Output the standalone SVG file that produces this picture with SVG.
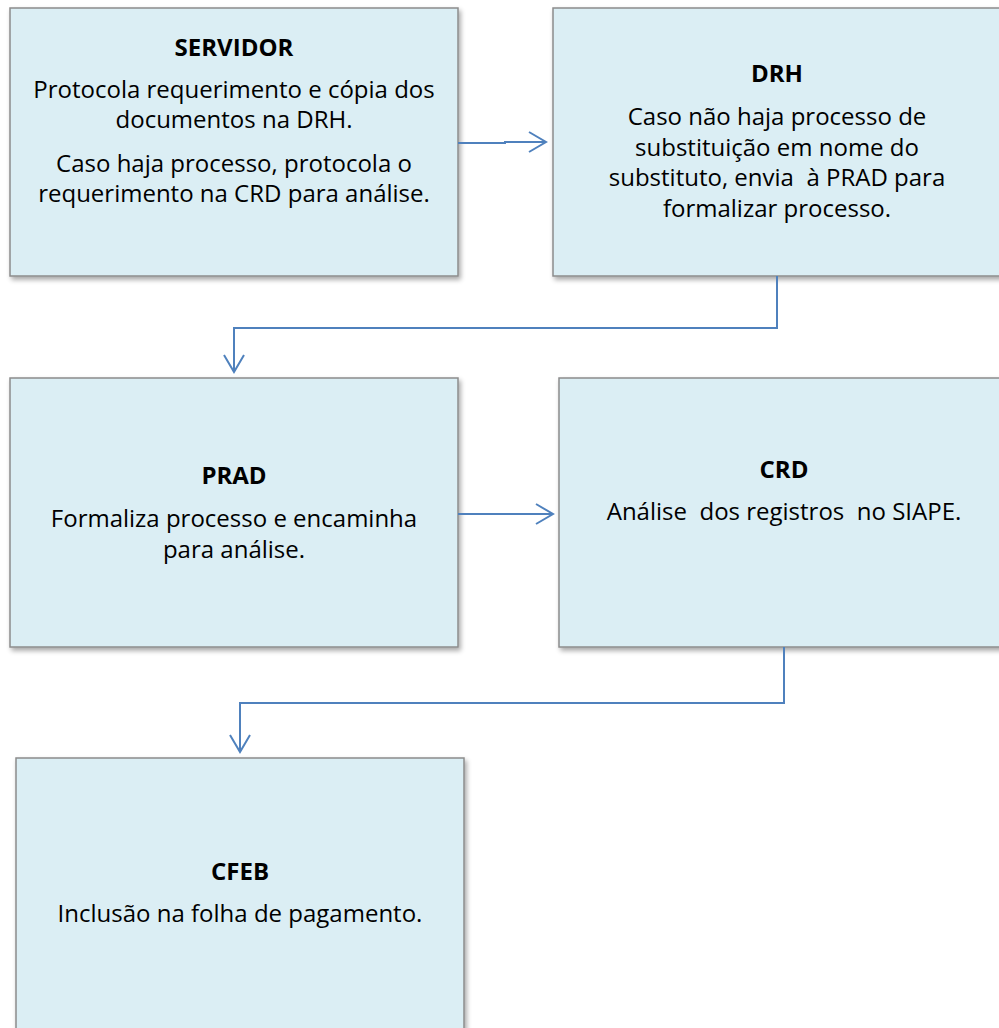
<svg xmlns="http://www.w3.org/2000/svg" width="999" height="1028" viewBox="0 0 999 1028">
<defs>
<filter id="sh" x="-5%" y="-5%" width="115%" height="115%">
<feGaussianBlur in="SourceAlpha" stdDeviation="2.5"/>
<feOffset dx="2" dy="3" result="b"/>
<feComponentTransfer><feFuncA type="linear" slope="0.35"/></feComponentTransfer>
<feMerge><feMergeNode/><feMergeNode in="SourceGraphic"/></feMerge>
</filter>
<marker id="arr" viewBox="0 0 24 24" refX="21" refY="12" markerWidth="24" markerHeight="24" markerUnits="userSpaceOnUse" orient="auto">
<path d="M4,2 L21,12 L4,22" fill="none" stroke="#4F81BD" stroke-width="2"/>
</marker>
</defs>
<style>
.box{fill:#DBEEF4;stroke:#8C8C8C;stroke-width:1.5;filter:url(#sh)}
.t{font-family:"Open Sans","Liberation Sans",sans-serif;font-size:24px;fill:#000;text-anchor:middle;white-space:pre}
.b{font-weight:bold}
.c{fill:none;stroke:#4F81BD;stroke-width:2}
</style>
<rect width="999" height="1028" fill="#fff"/>
<g id="servidor">
<rect class="box" x="10" y="8" width="448" height="268"/>
<text class="t b" x="234" y="56">SERVIDOR</text>
<text class="t" x="234" y="98">Protocola requerimento e cópia dos</text>
<text class="t" x="234" y="128">documentos na DRH.</text>
<text class="t" x="234" y="172">Caso haja processo, protocola o</text>
<text class="t" x="234" y="202">requerimento na CRD para análise.</text>
</g>
<g id="drh">
<rect class="box" x="553" y="8" width="460" height="268"/>
<text class="t b" x="777" y="82">DRH</text>
<text class="t" x="777" y="125">Caso não haja processo de</text>
<text class="t" x="777" y="156">substituição em nome do</text>
<text class="t" x="777" y="186" xml:space="preserve">substituto, envia  à PRAD para</text>
<text class="t" x="777" y="217">formalizar processo.</text>
</g>
<g id="prad">
<rect class="box" x="10" y="378" width="448" height="269"/>
<text class="t b" x="234" y="484">PRAD</text>
<text class="t" x="234" y="527">Formaliza processo e encaminha</text>
<text class="t" x="234" y="558">para análise.</text>
</g>
<g id="crd">
<rect class="box" x="559" y="378" width="460" height="269"/>
<text class="t b" x="784" y="478">CRD</text>
<text class="t" x="784" y="520" xml:space="preserve">Análise  dos registros  no SIAPE.</text>
</g>
<g id="cfeb">
<rect class="box" x="16" y="758" width="448" height="290"/>
<text class="t b" x="240" y="880">CFEB</text>
<text class="t" x="240" y="922">Inclusão na folha de pagamento.</text>
</g>
<g id="connectors">
<path class="c" d="M458,143 H505 V142 H546" marker-end="url(#arr)"/>
<path class="c" d="M777,276 V328 H234 V372" marker-end="url(#arr)"/>
<path class="c" d="M458,514 H553" marker-end="url(#arr)"/>
<path class="c" d="M784,647 V703 H240 V752" marker-end="url(#arr)"/>
</g>
</svg>
